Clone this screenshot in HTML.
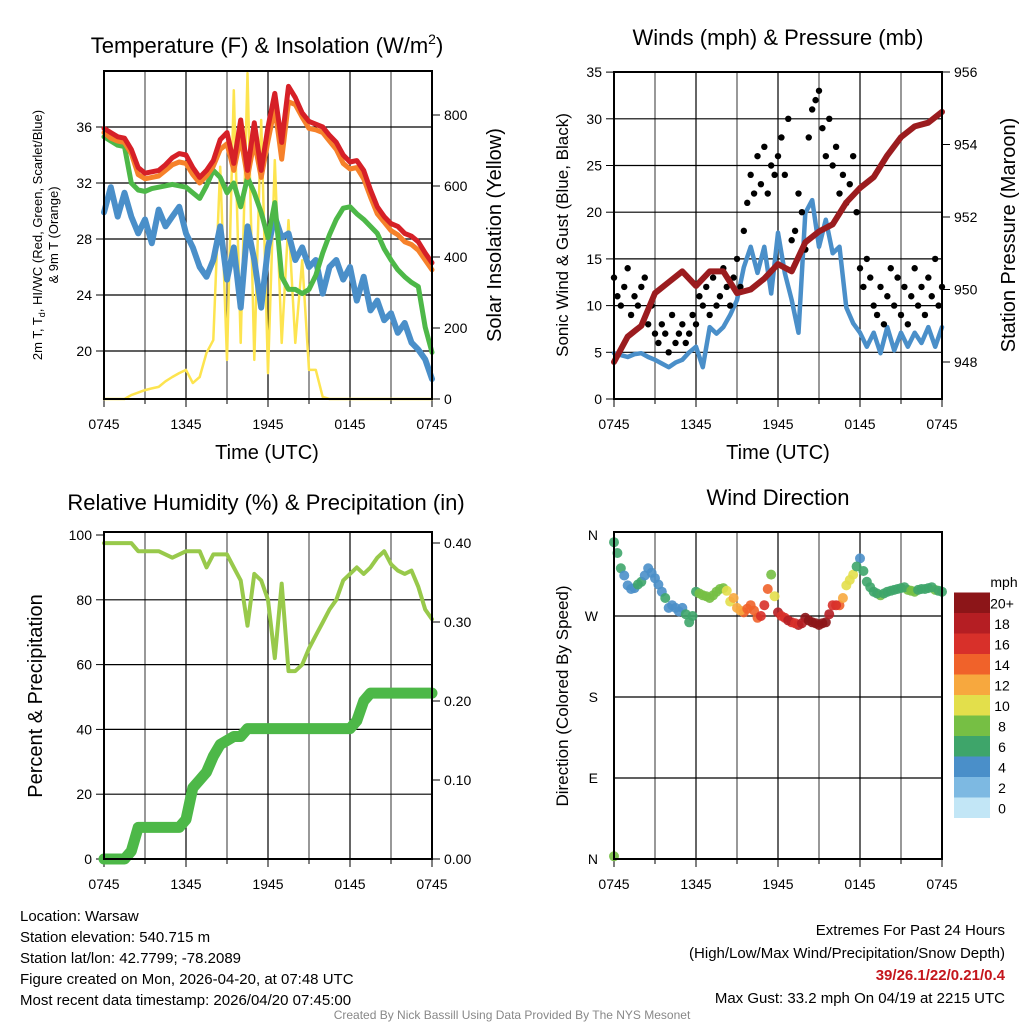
<!DOCTYPE html>
<html><head><meta charset="utf-8"><style>
body{margin:0;background:#fff;}
svg{display:block;font-family:"Liberation Sans",Arial,sans-serif;}
</style></head><body>
<svg id="chart" width="1024" height="1024" viewBox="0 0 1024 1024">
<rect width="1024" height="1024" fill="#fff"/>
<text x="267" y="53" font-size="22" text-anchor="middle">Temperature (F) &amp; Insolation (W/m<tspan dy="-9" font-size="14">2</tspan><tspan dy="9">)</tspan></text>
<text x="778" y="45" font-size="22" text-anchor="middle">Winds (mph) &amp; Pressure (mb)</text>
<text x="266" y="510" font-size="22" text-anchor="middle">Relative Humidity (%) &amp; Precipitation (in)</text>
<text x="778" y="505" font-size="22" text-anchor="middle">Wind Direction</text>

<text transform="translate(42,235) rotate(-90)" font-size="13" text-anchor="middle">2m T, T<tspan dy="3" font-size="9">d</tspan><tspan dy="-3">, HI/WC (Red, Green, Scarlet/Blue)</tspan></text>
<text transform="translate(58,235) rotate(-90)" font-size="13" text-anchor="middle">&amp; 9m T (Orange)</text>
<text transform="translate(501,235) rotate(-90)" font-size="20" text-anchor="middle">Solar Insolation (Yellow)</text>
<text transform="translate(568,235) rotate(-90)" font-size="17" text-anchor="middle">Sonic Wind &amp; Gust (Blue, Black)</text>
<text transform="translate(1015,235) rotate(-90)" font-size="20" text-anchor="middle">Station Pressure (Maroon)</text>
<text transform="translate(42,696) rotate(-90)" font-size="20" text-anchor="middle">Percent &amp; Precipitation</text>
<text transform="translate(568,696) rotate(-90)" font-size="17" text-anchor="middle">Direction (Colored By Speed)</text>
<text x="267" y="459" font-size="20" text-anchor="middle">Time (UTC)</text>
<text x="778" y="459" font-size="20" text-anchor="middle">Time (UTC)</text>

<g font-size="15">
<text x="20" y="921">Location: Warsaw</text>
<text x="20" y="942">Station elevation: 540.715 m</text>
<text x="20" y="963">Station lat/lon: 42.7799; -78.2089</text>
<text x="20" y="984">Figure created on Mon, 2026-04-20, at 07:48 UTC</text>
<text x="20" y="1005">Most recent data timestamp: 2026/04/20 07:45:00</text>
</g>
<g font-size="15" text-anchor="end">
<text x="1005" y="935">Extremes For Past 24 Hours</text>
<text x="1005" y="958">(High/Low/Max Wind/Precipitation/Snow Depth)</text>
<text x="1005" y="980" fill="#c4161c" font-weight="bold">39/26.1/22/0.21/0.4</text>
<text x="1005" y="1003">Max Gust: 33.2 mph On 04/19 at 2215 UTC</text>
</g>
<text x="512" y="1019" font-size="12" fill="#888" text-anchor="middle">Created By Nick Bassill Using Data Provided By The NYS Mesonet</text>
<text x="1004" y="587" font-size="14" text-anchor="middle">mph</text>
<g id="layer"></g>
</svg>
<script>
// ---------- data (half-hour steps, 0745 -> 0745 UTC) ----------
const xTickLabels = ['0745','1345','1945','0145','0745'];
const tempTicks = [20,24,28,32,36];
const solarTicks = [0,200,400,600,800];
const windTicks = [0,5,10,15,20,25,30,35];
const pressTicks = [948,950,952,954,956];
const rhTicks = [0,20,40,60,80,100];
const precipTicks = [0,0.1,0.2,0.3,0.4];
const dirTicks = [0,90,180,270,360];
const dirLabels = ['N','E','S','W','N'];
const speedBins = ['0','2','4','6','8','10','12','14','16','18','20+'];
const temp2m = [35.9,35.6,35.3,35.2,34.4,33.1,32.7,32.8,32.9,33.3,33.8,34.1,34.0,33.1,32.4,32.9,33.6,35.1,35.6,33.4,36.5,32.9,36.3,32.9,36.0,38.4,34.9,38.9,38.1,37.0,36.4,36.2,36.0,35.4,34.9,34.0,33.5,33.6,32.9,31.5,30.3,29.6,29.1,28.9,28.4,28.2,27.8,27.0,26.3];
const temp9m = [35.6,35.2,35.0,34.9,34.1,32.6,32.3,32.4,32.5,32.9,33.3,33.5,33.4,32.6,32.0,32.5,33.2,34.4,34.8,32.9,35.3,32.4,35.0,32.4,35.0,37.4,33.7,37.8,37.6,36.7,35.9,35.8,35.6,35.0,34.4,33.4,33.0,33.1,32.3,31.0,29.8,29.2,28.6,28.3,27.8,27.6,27.2,26.5,25.8];
const heatIdx = [35.3,35.0,34.7,34.6,32.0,31.5,31.4,31.6,31.7,31.8,31.9,31.8,31.7,31.3,30.9,31.8,32.9,32.4,31.3,32.0,30.3,32.4,31.3,29.9,28.1,30.6,25.3,24.4,24.4,24.1,24.4,25.4,27.0,28.3,29.4,30.2,30.3,29.8,29.4,28.9,28.4,27.3,26.5,25.8,25.3,24.9,24.6,21.7,19.9];
const dewpt = [29.9,31.7,29.6,31.3,29.6,28.4,29.4,27.7,30.1,28.9,29.6,30.3,28.4,27.4,26.0,25.3,26.5,28.9,25.1,27.4,23.1,28.9,26.5,23.1,27.4,29.6,28.1,28.4,26.5,27.4,26.0,26.5,24.1,26.0,26.5,25.1,26.0,23.6,25.3,22.9,23.6,22.2,22.7,21.3,22.0,20.6,20.1,19.4,18.0];
const solar = [0,0,0,0,11,18,25,30,34,50,62,73,82,45,62,130,166,654,110,870,158,918,110,786,73,673,158,504,158,391,82,82,6,0,0,0,0,0,0,0,0,0,0,0,0,0,0,0,0];
const windSpd = [4.9,4.7,4.5,4.8,4.9,4.5,4.2,3.8,3.4,3.9,4.2,5.0,5.6,3.4,7.7,7.0,7.7,9.0,10.6,14.1,16.3,13.5,16.3,11.3,17.8,13.5,10.6,7.1,19.9,21.3,16.3,19.2,15.6,16.3,9.8,8.1,7.1,5.6,7.1,4.9,7.7,5.2,7.1,5.6,7.1,6.0,7.7,5.6,7.7];
const gusts = [13,11,10,12,14,9,11,10,12,13,8,10,7,6,8,7,5,9,6,7,8,6,7,9,8,11,10,12,9,13,10,11,14,12,10,13,15,12,18,21,24,22,26,23,27,22,25,24,26,28,24,30,17,18,22,20,16,28,31,32,33,29,26,30,25,27,22,24,21,23,26,20,14,12,15,13,10,9,12,8,11,14,10,13,9,12,8,11,14,10,12,9,13,11,15,10,12];
const pressure = [948.0,948.7,949.0,949.9,950.2,950.5,950.1,950.5,950.5,949.9,950.0,950.3,950.7,950.5,951.3,951.6,951.8,952.4,952.8,953.1,953.7,954.2,954.5,954.6,954.9];
const rh = [97.5,97.5,97.5,97.5,97.5,95,95,95,95,94,93,94,95,95,95,90,94,94,94,90,86,72,88,86,80,62,85,58,58,60,65,69,73,77,80,86,88,90,88,90,93,95,91,89,88,89,84,77,74];
const precip = [0,0,0,0,0.01,0.04,0.04,0.04,0.04,0.04,0.04,0.04,0.05,0.09,0.10,0.11,0.13,0.145,0.15,0.155,0.155,0.165,0.165,0.165,0.165,0.165,0.165,0.165,0.165,0.165,0.165,0.165,0.165,0.165,0.165,0.165,0.165,0.175,0.20,0.21,0.21,0.21,0.21,0.21,0.21,0.21,0.21,0.21,0.21];
const windDir = [352,323,304,301,308,323,312,297,279,279,279,263,297,293,290,297,301,286,279,274,282,268,282,316,274,268,263,260,268,263,260,263,282,282,304,316,334,308,297,293,297,299,301,299,297,300,301,299,297];
const dirSpeed = [5,5,4,4,5,4,4,4,4,4,4,5,6,8,7,8,8,10,11,13,14,14,15,7,17,16,15,17,20,21,21,19,16,14,9,9,4,5,6,7,6,5,6,7,7,6,5,7,6];
const windDir2 = [340,315,300,305,315,318,305,290,282,275,272,270,295,292,293,300,298,290,276,278,276,270,300,292,270,265,262,262,265,262,262,272,282,290,310,325,320,302,295,295,298,300,302,298,299,300,302,298];
const dirSpeed2 = [5,4,4,5,4,4,4,5,4,4,5,5,7,7,8,7,9,11,12,13,14,15,14,9,16,17,16,18,21,20,20,18,15,12,9,6,5,5,6,6,5,6,6,7,6,6,6,6];
const calmDir = [3];
const calmSpeed = [7];

// ---------- scales ----------
const NS='http://www.w3.org/2000/svg';
const layer=document.getElementById('layer');
function mk(tag,attrs,parent){const e=document.createElementNS(NS,tag);for(const k in attrs)e.setAttribute(k,attrs[k]);(parent||layer).appendChild(e);return e;}
const W=328;
const xL=h=>104+h*W/24, xR=h=>614+h*W/24;
const yT=t=>351-(t-20)*14, yS=s=>399-s*0.355;
const yW=v=>399-v*9.34, yP=p=>362-(p-948)*36.25;
const yRH=r=>859-r*3.24, yPr=p=>859-p*790;
const yD=d=>859-d*0.9;
const speedColors=['#c2e6f6','#7db9e2','#4a8fc9','#3ea56a','#76bf44','#e3df4b','#f7a83e','#f0622a','#d8302a','#b51e23','#8c1518'];

function frame(x0,y0,x1,y1,name){
  for(let i=1;i<8;i++){const x=x0+i*(x1-x0)/8;
    const g=mk('line',{x1:x,y1:y0,x2:x,y2:y1,stroke:i%2?'#555':'#000','stroke-width':1.2});
    
    }
  for(let i=0;i<=8;i++){const x=x0+i*(x1-x0)/8;
    const t=mk('line',{x1:x,y1:y1,x2:x,y2:y1+(i%2?5:8),stroke:'#000','stroke-width':1});
    
    }
  xTickLabels.forEach((l,i)=>{const t=mk('text',{x:x0+i*(x1-x0)/4,y:y1+30,'font-size':14,'text-anchor':'middle'});t.textContent=l;
    
    });
}
function hgrid(x0,x1,y,name){const g=mk('line',{x1:x0,y1:y,x2:x1,y2:y,stroke:'#000','stroke-width':1.2});
  
  }
function ltick(x,y,label,name,side){
  const d=side==='l'?-8:8;
  const t=mk('line',{x1:x,y1:y,x2:x+d,y2:y,stroke:'#000','stroke-width':1});
  
  
  const tx=mk('text',{x:x+(side==='l'?-12:12),y:y+5,'font-size':14,'text-anchor':side==='l'?'end':'start'});tx.textContent=label;
  
  
}
function poly(xs,ys,color,w,name){
  const pts=xs.map((x,i)=>x.toFixed(1)+','+ys[i].toFixed(1)).join(' ');
  const p=mk('polyline',{points:pts,fill:'none',stroke:color,'stroke-width':w,'stroke-linejoin':'round','stroke-linecap':'round'});
  
  
}
function border(x0,y0,x1,y1,name){const r=mk('rect',{x:x0,y:y0,width:x1-x0,height:y1-y0,fill:'none',stroke:'#000','stroke-width':2});
  
  }
const half=n=>Array.from({length:n},(_,i)=>i*24/(n-1));

// ---------- Panel 1: temperature ----------
frame(104,71,432,399,'temp');
tempTicks.forEach(t=>{hgrid(104,432,yT(t),'temp-hgrid');ltick(104,yT(t),String(t),'temp-y','l');});
solarTicks.forEach(s=>ltick(432,yS(s),String(s),'solar-y','r'));
let hh=half(49);
poly(hh.map(xL),solar.map(yS),'#fde44f',2.5,'solar-line');
poly(hh.map(xL),dewpt.map(yT),'#4a8fc9',6,'dewpoint-line');
poly(hh.map(xL),heatIdx.map(yT),'#4db848',5,'heat-index-line');
poly(hh.map(xL),temp9m.map(yT),'#f6812a',5,'temp-9m-line');
poly(hh.map(xL),temp2m.map(yT),'#d62027',5,'temp-2m-line');
border(104,71,432,399,'temp-plot-frame');

// ---------- Panel 2: winds ----------
frame(614,72,942,399,'wind');
windTicks.forEach(v=>{if(v>0&&v<35)hgrid(614,942,yW(v),'wind-hgrid');ltick(614,yW(v),String(v),'wind-y','l');});
pressTicks.forEach(p=>ltick(942,yP(p),String(p),'pressure-y','r'));
poly(hh.map(xR),windSpd.map(yW),'#4a8fc9',4.5,'sonic-wind-line');
const gh=half(gusts.length);
gusts.forEach((g,i)=>{const c=mk('circle',{cx:xR(gh[i]),cy:yW(g),r:3.2,fill:'#000'});
  
  });
poly(half(pressure.length).map(xR),pressure.map(yP),'#9b1c1f',6,'pressure-line');
border(614,72,942,399,'wind-plot-frame');

// ---------- Panel 3: RH & precip ----------
frame(104,532,432,859,'rh');
rhTicks.forEach(r=>{if(r>0&&r<100)hgrid(104,432,yRH(r),'rh-hgrid');ltick(104,yRH(r),String(r),'rh-y','l');});
precipTicks.forEach(p=>ltick(432,yPr(p),p.toFixed(2),'precip-y','r'));
poly(hh.map(xL),precip.map(yPr),'#4db848',11,'precip-line');
poly(hh.map(xL),rh.map(yRH),'#98c94b',4,'rh-line');
border(104,532,432,859,'rh-plot-frame');

// ---------- Panel 4: wind direction ----------
frame(614,532,942,859,'dir');
dirTicks.forEach((d,i)=>{if(d>0&&d<360)hgrid(614,942,yD(d),'dir-hgrid');
  const t=mk('text',{x:598,y:yD(d)+5,'font-size':14,'text-anchor':'end'});t.textContent=dirLabels[i];
  
  });
function dirDot(h,d,s){const ci=Math.min(10,Math.round(s/2));
  const c=mk('circle',{cx:xR(h),cy:yD(d),r:5,fill:speedColors[ci],'fill-opacity':0.9});
  
  }
windDir.forEach((d,i)=>dirDot(hh[i],d,dirSpeed[i]));
windDir2.forEach((d,i)=>dirDot(hh[i]+0.25,d,dirSpeed2[i]));
calmDir.forEach((d,i)=>dirDot(0,d,calmSpeed[i]));
border(614,532,942,859,'dir-plot-frame');

// colorbar
speedBins.forEach((l,i)=>{const y=797.5-i*20.5;
  const r=mk('rect',{x:954,y:y,width:36,height:20.5,fill:speedColors[i]});
  
  
  const t=mk('text',{x:1002,y:y+16,'font-size':14,'text-anchor':'middle'});t.textContent=l;
  
  });
</script>
</body></html>
